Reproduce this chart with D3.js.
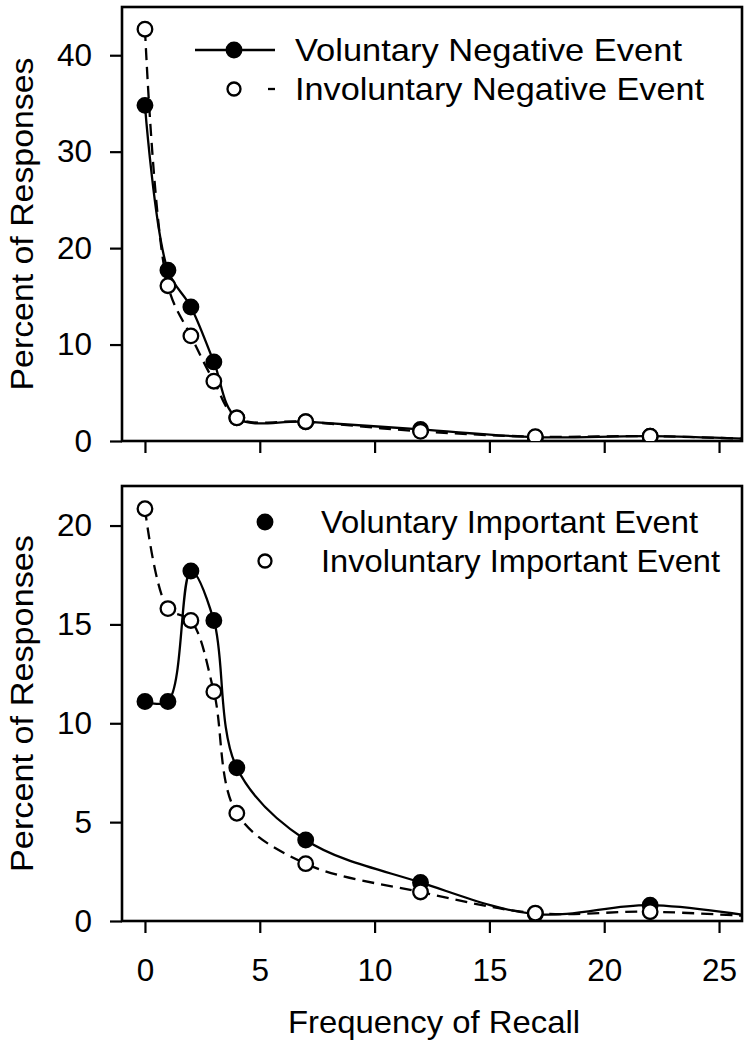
<!DOCTYPE html>
<html>
<head>
<meta charset="utf-8">
<script src="https://cdn.jsdelivr.net/npm/d3@7"></script>
<style>
  body { margin: 0; background: #fff; }
  text { font-family: 'Liberation Sans', Arial, sans-serif; fill: #000; }
</style>
</head>
<body>
<svg width="754" height="1049"></svg>
<script>
// recall frequency (x) and percent of responses per series
const freq = [0, 1, 2, 3, 4, 7, 12, 17, 22, 27]
const volNegative = [34.8, 17.7, 13.9, 8.2, 2.4, 2.0, 1.2, 0.4, 0.5, 0.15]
const invNegative = [42.7, 16.1, 10.9, 6.2, 2.4, 2.0, 1.0, 0.45, 0.5, 0.15]
const volImportant = [11.1, 11.1, 17.7, 15.2, 7.75, 4.1, 1.95, 0.35, 0.8, 0.15]
const invImportant = [20.85, 15.8, 15.2, 11.6, 5.45, 2.9, 1.47, 0.4, 0.47, 0.2]

const xTicks = [0, 5, 10, 15, 20, 25]
const topTicks = [0, 10, 20, 30, 40]
const bottomTicks = [0, 5, 10, 15, 20]
const topLegend = ['Voluntary Negative Event', 'Involuntary Negative Event']
const bottomLegend = ['Voluntary Important Event', 'Involuntary Important Event']

const svg = d3.select('svg')
const left = 122, right = 742

const x = d3.scaleLinear().domain([-1, 26]).range([left, right])

const panels = [
  {
    id: 'top', top: 7, bottom: 441, max: 45, ticks: topTicks,
    vol: volNegative, inv: invNegative, names: topLegend,
    showX: false, legendX: 295, legendY: [61, 100], markerX: 234, withLines: true,
    textLen: [387, 409], titleLen: 333
  },
  {
    id: 'bottom', top: 486, bottom: 921, max: 22, ticks: bottomTicks,
    vol: volImportant, inv: invImportant, names: bottomLegend,
    showX: true, legendX: 321, legendY: [533, 572], markerX: 265, withLines: false,
    textLen: [377, 399], titleLen: 337
  }
]

const curve = d3.curveCatmullRom.alpha(0.5)

const drawPanel = p => {
  const y = d3.scaleLinear().domain([0, p.max]).range([p.bottom, p.top])
  const g = svg.append('g').attr('class', 'panel-' + p.id)

  svg.append('clipPath')
    .attr('id', 'clip-' + p.id)
    .append('rect')
    .attr('x', left)
    .attr('y', p.top)
    .attr('width', right - left)
    .attr('height', p.bottom - p.top)

  // axes
  const yAxis = g.append('g')
    .attr('transform', `translate(${left},0)`)
    .call(d3.axisLeft(y).tickValues(p.ticks).tickSize(12).tickPadding(18).tickSizeOuter(0))
  const xAxis = g.append('g')
    .attr('transform', `translate(0,${p.bottom})`)
    .call(d3.axisBottom(x).tickValues(xTicks).tickSize(12).tickPadding(26).tickSizeOuter(0))
  if (!p.showX) xAxis.selectAll('text').remove()

  ;[yAxis, xAxis].forEach(a => {
    a.select('.domain').remove()
    a.selectAll('line').attr('stroke', '#000').attr('stroke-width', 2.2)
    a.selectAll('text').attr('font-size', 31.5).attr('fill', '#000')
      .style('font-family', "'Liberation Sans', Arial, sans-serif")
  })

  g.append('rect')
    .attr('x', left)
    .attr('y', p.top)
    .attr('width', right - left)
    .attr('height', p.bottom - p.top)
    .attr('fill', 'none')
    .attr('stroke', '#000')
    .attr('stroke-width', 2.6)

  const line = d3.line()
    .x(d => x(d[0]))
    .y(d => y(d[1]))
    .curve(curve)

  const plot = g.append('g').attr('clip-path', `url(#clip-${p.id})`)

  const series = [
    { values: p.vol, dash: null, fill: '#000' },
    { values: p.inv, dash: '12,7', fill: '#fff' }
  ]

  series.forEach(s => {
    const pts = freq.map((f, i) => [f, s.values[i]])
    plot.append('path')
      .datum(pts)
      .attr('d', line)
      .attr('fill', 'none')
      .attr('stroke', '#000')
      .attr('stroke-width', 2.3)
      .attr('stroke-dasharray', s.dash)

    plot.selectAll(null)
      .data(pts)
      .enter()
      .append('circle')
      .attr('cx', d => x(d[0]))
      .attr('cy', d => y(d[1]))
      .attr('r', 7.3)
      .attr('fill', s.fill)
      .attr('stroke', '#000')
      .attr('stroke-width', 2.3)
  })

  // legend
  const lg = g.append('g').attr('class', 'legend')
  p.names.forEach((name, i) => {
    const cy = p.legendY[i] - 11
    if (p.withLines && i === 0) {
      lg.append('line')
        .attr('x1', p.markerX - 39).attr('x2', p.markerX + 41)
        .attr('y1', cy).attr('y2', cy)
        .attr('stroke', '#000').attr('stroke-width', 2.3)
    }
    if (p.withLines && i === 1) {
      lg.append('line')
        .attr('x1', p.markerX + 34).attr('x2', p.markerX + 41)
        .attr('y1', cy).attr('y2', cy)
        .attr('stroke', '#000').attr('stroke-width', 2.3)
    }
    lg.append('circle')
      .attr('cx', p.markerX)
      .attr('cy', cy)
      .attr('r', i === 0 ? 7.3 : 6.5)
      .attr('fill', i === 0 ? '#000' : '#fff')
      .attr('stroke', '#000')
      .attr('stroke-width', 2.3)
    lg.append('text')
      .attr('x', p.legendX)
      .attr('y', p.legendY[i])
      .attr('font-size', 31.5)
      .attr('textLength', p.textLen[i])
      .attr('lengthAdjust', 'spacingAndGlyphs')
      .text(name)
  })

  // y title
  g.append('text')
    .attr('transform', `translate(33,${(p.top + p.bottom) / 2}) rotate(-90)`)
    .attr('text-anchor', 'middle')
    .attr('font-size', 32)
    .attr('textLength', p.titleLen)
    .attr('lengthAdjust', 'spacingAndGlyphs')
    .text('Percent of Responses')
}

panels.forEach(drawPanel)

svg.append('text')
  .attr('x', 434)
  .attr('y', 1033)
  .attr('text-anchor', 'middle')
  .attr('font-size', 32)
  .attr('textLength', 292)
  .attr('lengthAdjust', 'spacingAndGlyphs')
  .text('Frequency of Recall')
</script>
</body>
</html>
